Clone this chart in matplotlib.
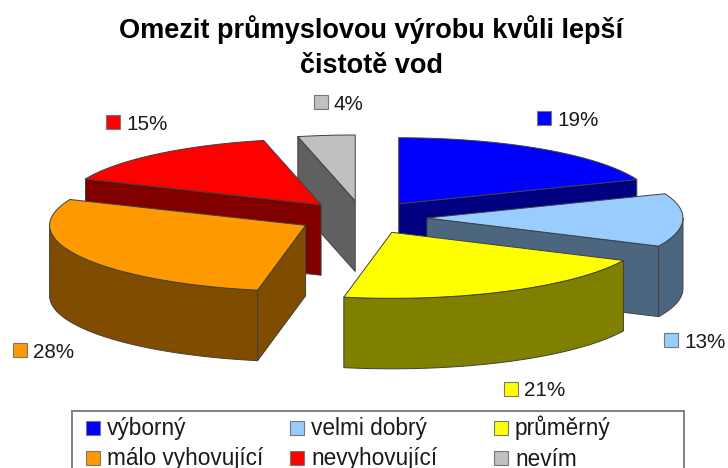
import numpy as np
import matplotlib
matplotlib.use("Agg")
import matplotlib.pyplot as plt
from matplotlib.patches import Polygon, Rectangle

plt.rcParams['font.family'] = ['Liberation Sans', 'DejaVu Sans']

#### data
categories = ["výborný", "velmi dobrý", "průměrný", "málo vyhovující", "nevyhovující", "nevím"]
values = [19.0, 13.0, 21.0, 28.4, 15.0, 3.6]
pct_labels = ["19%", "13%", "21%", "28%", "15%", "4%"]
title_lines = ["Omezit průmyslovou výrobu kvůli lepší", "čistotě vod"]

#### styles
top_colors = ["#0000FF", "#99CCFF", "#FFFF00", "#FF9900", "#FF0000", "#C0C0C0"]
side_colors = ["#000080", "#4D6680", "#808000", "#804D00", "#800000", "#606060"]
edge = "#404040"
text_col = "#1a1a1a"

#### pie geometry in pixels
cx, cy = 362.5, 217.5
rx, ry = 256, 66
depth = 70.5
explode = 64.5
draw_order = [5, 4, 0, 3, 1, 2]

# marker corner for the value labels
label_pos = [(537, 111), (664, 333), (504, 382), (13, 343), (106, 115), (314, 95)]
# legend positions, col/row
legend_x = [86, 290, 494]
legend_y = [421, 451]

fig = plt.figure(figsize=(7.28, 4.68), dpi=100)
ax = fig.add_axes([0, 0, 1, 1])
ax.set_xlim(0, 728)
ax.set_ylim(468, 0)
ax.axis("off")


def rim(theta, x0, y0):
    return x0 + rx*np.sin(theta), y0 - ry*np.cos(theta)


def draw_slice(start, stop, top_col, side_col):
    mid = (start + stop)/2
    x0 = cx + explode*np.sin(mid)
    y0 = cy - explode*ry/rx*np.cos(mid)

    # flat cut faces, only those turned towards the viewer
    for ang, visible in [(start, np.sin(start) < 0), (stop, np.sin(stop) > 0)]:
        if visible:
            xr, yr = rim(ang, x0, y0)
            pts = [(x0, y0), (xr, yr), (xr, yr+depth), (x0, y0+depth)]
            ax.add_patch(Polygon(pts, fc=side_col, ec=edge, lw=0.7, joinstyle="round"))

    # outer wall, front half of the ellipse only
    a0, a1 = max(start, np.pi/2), min(stop, 3*np.pi/2)
    if a1 > a0:
        t = np.linspace(a0, a1, 80)
        xr, yr = rim(t, x0, y0)
        pts = np.vstack([np.column_stack([xr, yr]), np.column_stack([xr[::-1], yr[::-1]+depth])])
        ax.add_patch(Polygon(pts, fc=side_col, ec=edge, lw=0.7, joinstyle="round"))

    # top
    t = np.linspace(start, stop, 80)
    xr, yr = rim(t, x0, y0)
    pts = np.vstack([[x0, y0], np.column_stack([xr, yr])])
    ax.add_patch(Polygon(pts, fc=top_col, ec=edge, lw=0.7, joinstyle="round"))


edges = 2*np.pi*np.concatenate([[0], np.cumsum(values)])/np.sum(values)
for i in draw_order:
    draw_slice(edges[i], edges[i+1], top_colors[i], side_colors[i])

# title
ax.text(371, 38, title_lines[0], fontsize=19.5, fontweight="bold", color="black", ha="center", va="baseline")
ax.text(371, 73, title_lines[1], fontsize=19.5, fontweight="bold", color="black", ha="center", va="baseline")

# value labels
for (mx, my), lab, col in zip(label_pos, pct_labels, top_colors):
    ax.add_patch(Rectangle((mx, my), 14, 14, fc=col, ec="#777777", lw=0.8))
    ax.text(mx+20, my+14.5, lab, fontsize=14.9, color=text_col, ha="left", va="baseline")

# legend box runs off the bottom of the picture
ax.add_patch(Rectangle((72, 411), 612, 80, fc="white", ec="#808080", lw=1.4))
for i, name in enumerate(categories):
    mx = legend_x[i % 3]
    my = legend_y[i//3]
    ax.add_patch(Rectangle((mx, my), 14, 14, fc=top_colors[i], ec="#777777", lw=0.8))
    ax.text(mx+21, my+14.5, name, fontsize=16.3, color=text_col, ha="left", va="baseline")

fig.savefig("out.png", dpi=100, facecolor="white")
